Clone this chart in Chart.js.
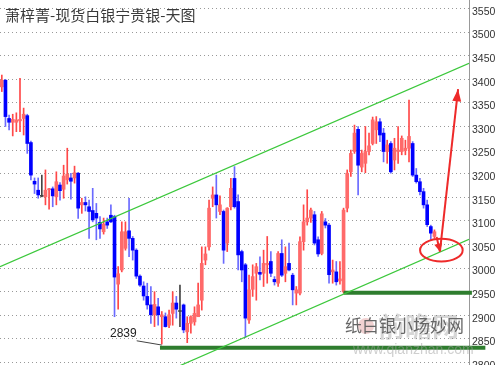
<!DOCTYPE html>
<html>
<head>
<meta charset="utf-8">
<script src="https://cdn.jsdelivr.net/npm/chart.js@4.4.1/dist/chart.umd.min.js"></script>
<style>
html, body { margin: 0; padding: 0; background: #fff; }
</style>
</head>
<body>
<canvas id="myChart" width="500" height="365"></canvas>
<script>
// daily OHLC
const opens = [3384, 3398, 3317, 3309, 3309, 3312, 3317, 3323, 3266, 3184,
    3165, 3153, 3151, 3166, 3168, 3151, 3176, 3167, 3187, 3191,
    3191, 3201, 3134, 3139, 3130, 3122, 3116, 3097, 3077, 3098,
    3112, 3109, 2966, 2996, 3042, 3079, 3063, 3038, 2983, 2962,
    2940, 2922, 2901, 2918, 2897, 2897, 2879, 2904, 2926, 2909,
    2922, 2865, 2883, 2886, 2897, 2932, 3017, 3045, 3148, 3155,
    3120, 3120, 3053, 3130, 3190, 3141, 3035, 3007, 2890, 2955,
    2989, 2991, 2989, 3007, 3014, 2976, 2968, 3031, 2989, 3010,
    2985, 2947, 2947, 3056, 3098, 3106, 3113, 3060, 3031, 3098,
    3091, 2992, 2992, 2973, 2950, 3127, 3204, 3247, 3294, 3214,
    3222, 3247, 3264, 3293, 3310, 3286, 3247, 3264, 3229, 3247,
    3247, 3249, 3254, 3264, 3197, 3183, 3162, 3134, 3088, 3067];
const highs = [3409, 3400, 3324, 3326, 3329, 3402, 3339, 3326, 3269, 3191,
    3191, 3197, 3208, 3169, 3172, 3204, 3181, 3218, 3254, 3201,
    3216, 3203, 3148, 3151, 3144, 3169, 3137, 3109, 3106, 3106,
    3134, 3112, 3003, 3098, 3098, 3148, 3067, 3041, 2986, 2971,
    2968, 2961, 2950, 2936, 2908, 2905, 2911, 2950, 2940, 2964,
    2924, 2897, 2899, 2918, 2968, 3045, 3045, 3144, 3172, 3197,
    3153, 3123, 3128, 3190, 3215, 3155, 3038, 3010, 2985, 3007,
    3010, 3024, 3038, 3067, 3035, 2982, 3035, 3060, 3045, 3053,
    2989, 2961, 3066, 3134, 3166, 3127, 3120, 3066, 3120, 3105,
    3095, 3017, 3014, 3014, 3127, 3208, 3250, 3303, 3300, 3250,
    3300, 3286, 3320, 3321, 3317, 3296, 3271, 3268, 3275, 3300,
    3280, 3271, 3356, 3268, 3211, 3190, 3169, 3144, 3091, 3081];
const lows = [3374, 3300, 3293, 3280, 3289, 3289, 3282, 3243, 3187, 3158,
    3148, 3151, 3134, 3125, 3130, 3134, 3144, 3148, 3178, 3146,
    3180, 3105, 3116, 3121, 3063, 3098, 3060, 3063, 3072, 3084,
    3096, 2897, 2913, 2992, 3038, 3024, 3017, 2978, 2961, 2932,
    2913, 2883, 2876, 2879, 2839, 2875, 2874, 2879, 2894, 2876,
    2863, 2842, 2862, 2879, 2897, 2911, 3007, 3038, 3130, 3106,
    3113, 3010, 3035, 3123, 3127, 2996, 2971, 2853, 2883, 2940,
    2932, 2975, 2961, 2968, 2982, 2964, 2961, 2982, 2971, 2994,
    2922, 2922, 2943, 3038, 3091, 3097, 3049, 3025, 3028, 3085,
    2968, 2968, 2964, 2966, 2947, 3119, 3194, 3243, 3155, 3204,
    3202, 3240, 3261, 3264, 3268, 3225, 3222, 3201, 3208, 3222,
    3240, 3240, 3225, 3194, 3180, 3155, 3127, 3088, 3060, 3063];
const closes = [3398, 3321, 3309, 3315, 3314, 3315, 3326, 3264, 3197, 3178,
    3155, 3152, 3165, 3168, 3153, 3183, 3164, 3195, 3199, 3184,
    3202, 3127, 3139, 3134, 3120, 3102, 3106, 3083, 3093, 3091,
    3098, 2981, 2988, 3077, 3077, 3063, 3038, 2983, 2964, 2941,
    2922, 2901, 2923, 2901, 2901, 2876, 2901, 2926, 2913, 2908,
    2869, 2883, 2897, 2904, 2922, 3010, 3030, 3127, 3155, 3134,
    3134, 3038, 3127, 3169, 3130, 3028, 2996, 2894, 2954, 2982,
    3003, 2987, 3010, 3010, 2989, 2971, 3031, 2985, 3003, 2996,
    2954, 2954, 3056, 3098, 3106, 3123, 3053, 3030, 3115, 3091,
    2986, 2996, 2971, 2977, 3123, 3201, 3243, 3286, 3218, 3243,
    3247, 3259, 3314, 3310, 3282, 3247, 3261, 3204, 3254, 3250,
    3275, 3254, 3279, 3197, 3183, 3162, 3134, 3092, 3074, 3077];

const slotCount = 129; // 120 days plus empty room on the right
const days = Array.from({length: slotCount}, (_, i) => 'D' + (i + 1));
const yTickValues = [2800, 2850, 2900, 2950, 3000, 3050, 3100, 3150, 3200,
    3250, 3300, 3350, 3400, 3450, 3500, 3550];

// drawn lines, in (day index, price)
const upperChannel = [{x: -0.5, y: 3003}, {x: 128.5, y: 3434}];
const lowerChannel = [{x: 40, y: 2763}, {x: 128.5, y: 3061}];
const support2950 = [{x: 94, y: 2948}, {x: 129.3, y: 2948}];
const support2839 = [{x: 43.5, y: 2831}, {x: 133, y: 2831}];
const lowPointer = [{x: 37.1, y: 2846}, {x: 44, y: 2837}];
const arrowDown = [{x: 119.6, y: 3066}, {x: 120.5, y: 3035}];
const arrowUp = [{x: 120.5, y: 3035}, {x: 125.5, y: 3379}];
const target = {x: 120.9, y: 3038, rx: 5.86, ry: 24};
const lowLabel = '2839';

function candleColor(i, up, down, flat) {
    const d = closes[i] - opens[i];
    if (Math.abs(d) <= 1) return flat;
    return d > 0 ? up : down;
}

function arrowHead(ctx, x1, y1, x2, y2, len, half) {
    const a = Math.atan2(y2 - y1, x2 - x1);
    ctx.beginPath();
    ctx.moveTo(x2, y2);
    ctx.lineTo(x2 - len * Math.cos(a) + half * Math.sin(a), y2 - len * Math.sin(a) - half * Math.cos(a));
    ctx.lineTo(x2 - len * Math.cos(a) - half * Math.sin(a), y2 - len * Math.sin(a) + half * Math.cos(a));
    ctx.closePath();
    ctx.fill();
}

const overlay = {
    id: 'overlay',
    afterDatasetsDraw(chart) {
        const {ctx} = chart;
        const xs = chart.scales.x2, ys = chart.scales.y;
        const px = v => xs.getPixelForValue(v);
        const py = v => ys.getPixelForValue(v);
        ctx.save();

        // title
        ctx.fillStyle = '#3a3a3a';
        ctx.font = '15px "Noto Sans CJK SC"';
        ctx.textBaseline = 'middle';
        ctx.textAlign = 'left';
        ctx.fillText('萧梓菁-现货白银宁贵银-天图', 5, 15);

        // watermark
        ctx.fillStyle = 'rgba(200,70,70,0.25)';
        ctx.beginPath();
        ctx.arc(366, 326, 8, 0, Math.PI * 2);
        ctx.fill();
        ctx.fillStyle = 'rgba(120,120,120,0.3)';
        ctx.font = 'bold 27px "Noto Sans CJK SC"';
        ctx.fillText('前瞻网', 378, 327);
        ctx.fillStyle = '#666';
        ctx.font = '17px "Noto Sans CJK SC"';
        ctx.fillText('纸白银小场妙网', 345, 326);
        ctx.fillStyle = 'rgba(160,160,160,0.5)';
        ctx.font = '14px "Liberation Sans", Arial, sans-serif';
        ctx.fillText('www.qianzhan.com', 353, 350);

        // low label
        ctx.fillStyle = '#222';
        ctx.font = '12px "Liberation Sans", Arial, sans-serif';
        ctx.textAlign = 'right';
        ctx.fillText(lowLabel, px(lowPointer[0].x), py(lowPointer[0].y) - 7);

        // target ellipse
        ctx.strokeStyle = '#ee2a2a';
        ctx.fillStyle = '#ee2a2a';
        ctx.lineWidth = 2;
        ctx.beginPath();
        ctx.ellipse(px(target.x), py(target.y),
            px(target.x + target.rx) - px(target.x),
            py(target.y - target.ry) - py(target.y), 0, 0, Math.PI * 2);
        ctx.stroke();

        // arrows
        [arrowDown, arrowUp].forEach((a, k) => {
            const x1 = px(a[0].x), y1 = py(a[0].y), x2 = px(a[1].x), y2 = py(a[1].y);
            ctx.beginPath();
            ctx.moveTo(x1, y1);
            ctx.lineTo(x2, y2);
            ctx.stroke();
            arrowHead(ctx, x1, y1, x2, y2, k ? 12 : 8, k ? 4.5 : 4);
        });
        ctx.restore();
    }
};

const lineSet = (data, color, width, clip) => ({
    type: 'line', xAxisID: 'x2', data: data, borderColor: color,
    borderWidth: width, pointRadius: 0, fill: false, clip: clip, order: 0
});

const ctx = document.getElementById('myChart').getContext('2d');
const myChart = new Chart(ctx, {
    type: 'bar',
    data: {
        labels: days,
        datasets: [{
            label: 'wick',
            data: lows.map((l, i) => [l, highs[i]]),
            barThickness: 1,
            grouped: false,
            backgroundColor: c => candleColor(c.dataIndex, '#ff4848', '#6a6aff', '#444'),
            order: 2
        }, {
            label: 'body',
            data: opens.map((o, i) => [o, closes[i]]),
            barThickness: 3,
            grouped: false,
            minBarLength: 1,
            backgroundColor: c => candleColor(c.dataIndex, '#ff6a6a', '#0000ff', '#444'),
            order: 1
        },
        lineSet(upperChannel, '#3cc83c', 1.2, undefined),
        lineSet(lowerChannel, '#3cc83c', 1.2, undefined),
        lineSet(support2950, '#2e7d2e', 4, false),
        lineSet(support2839, '#2e7d2e', 4, false),
        lineSet(lowPointer, '#444', 1, false)]
    },
    options: {
        responsive: false,
        animation: false,
        layout: { padding: 0 },
        plugins: {
            legend: { display: false },
            tooltip: { enabled: false }
        },
        scales: {
            x: { display: false, offset: true },
            x2: {
                type: 'linear', display: false, offset: false,
                grid: { offset: false },
                min: -0.5, max: slotCount - 0.5
            },
            y: {
                position: 'right',
                min: 2794.7,
                max: 3568,
                afterBuildTicks: s => { s.ticks = yTickValues.map(v => ({value: v})); },
                afterFit: s => { s.width = 31; s.paddingTop = 0; s.paddingBottom = 0; },
                ticks: {
                    autoSkip: false,
                    padding: 3,
                    labelOffset: 3.5,
                    color: '#333',
                    font: { family: '"Liberation Sans", Arial, sans-serif', size: 10.5 },
                    callback: v => String(v)
                },
                grid: { color: '#999', drawTicks: false },
                border: { display: true, color: '#999', dash: [1, 3] }
            }
        }
    },
    plugins: [overlay]
});
</script>
</body>
</html>
